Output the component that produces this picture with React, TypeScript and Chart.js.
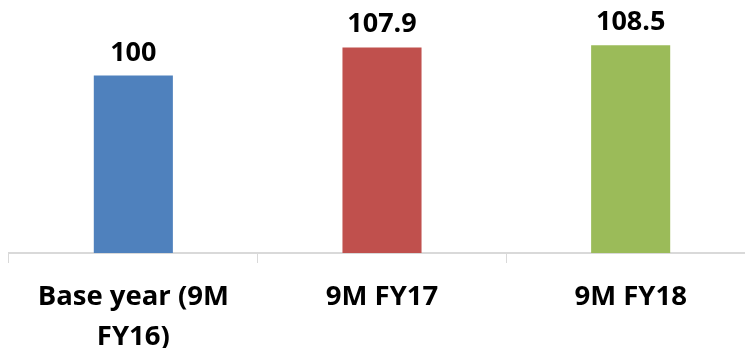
import React, { useEffect, useRef } from "react";
import { Chart, registerables } from "chart.js";

Chart.register(...registerables);

const categories: (string | string[])[] = [["Base year (9M", "FY16)"], "9M FY17", "9M FY18"];
const values: number[] = [100, 107.9, 108.5];
const barColors: string[] = ["#4F81BD", "#C0504D", "#9BBB59"];
const valueLabels: string[] = ["100", "107.9", "108.5"];

const labelPlugin = {
  id: "valueLabels",
  afterDatasetsDraw(chart: any) {
    const ctx = chart.ctx;
    const meta = chart.getDatasetMeta(0);
    ctx.save();
    ctx.font = "bold 27px 'Open Sans'";
    ctx.fillStyle = "#000000";
    ctx.textAlign = "center";
    ctx.textBaseline = "alphabetic";
    meta.data.forEach((bar: any, i: number) => {
      ctx.fillText(valueLabels[i], bar.x, bar.y - 15);
    });
    ctx.restore();
  },
};

export default function App() {
  const ref = useRef<HTMLCanvasElement>(null);
  useEffect(() => {
    document.body.style.overflow = "hidden";
    const chart = new Chart(ref.current!, {
      type: "bar",
      data: {
        labels: categories,
        datasets: [
          {
            data: values,
            backgroundColor: barColors,
            borderWidth: 0,
            barPercentage: 0.318,
            categoryPercentage: 1,
          },
        ],
      },
      options: {
        animation: false,
        responsive: false,
        layout: { padding: { left: 9, right: 0, top: 40, bottom: 0 } },
        plugins: { legend: { display: false }, tooltip: { enabled: false } },
        scales: {
          x: {
            offset: true,
            grid: {
              display: true,
              drawOnChartArea: false,
              drawTicks: true,
              tickLength: 10,
              color: "#d9d9d9",
              offset: true,
            },
            border: { display: true, color: "#d9d9d9", width: 2 },
            ticks: {
              color: "#000000",
              padding: 14,
              maxRotation: 0,
              autoSkip: false,
              font: { family: "'Open Sans'", size: 27.5, weight: "bold", lineHeight: 1.45 },
            },
            afterFit(scale: any) {
              scale.height = 95;
            },
          },
          y: {
            display: false,
            min: 50,
            max: 110,
          },
        },
      },
      plugins: [labelPlugin],
    });
    return () => chart.destroy();
  }, []);
  return (
    <div style={{ position: "fixed", left: 0, top: 0, width: 745, height: 348, overflow: "hidden", background: "#fff" }}>
      <canvas ref={ref} width={755} height={348} style={{ display: "block" }} />
    </div>
  );
}
